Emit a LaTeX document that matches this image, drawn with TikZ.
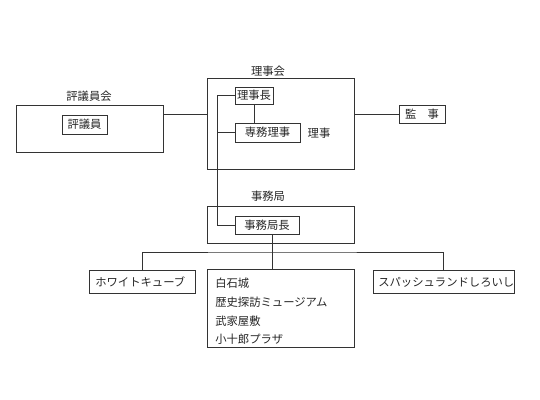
\documentclass[tikz,border=0pt]{standalone}
\usepackage{fontspec}
\setmainfont{Noto Sans CJK JP}
\begin{document}
\begin{tikzpicture}[x=0.75pt,y=-0.75pt,
  every node/.style={font=\fontsize{8.5}{10}\selectfont, text=black!85, inner sep=0pt},
  box/.style 2 args={draw=black!80, line width=0.6pt, rectangle, minimum width=#1*0.75pt, minimum height=#2*0.75pt},
  ln/.style={draw=black!80, line width=0.6pt}]
\useasboundingbox (0,0) rectangle (540,400);
% group boxes
\node[box={147}{47}] (hyogi) at (89.5,128.5) {};
\node[anchor=south] (hyogiL) at (89,102) {評議員会};
\node[box={45}{19}] (hyogiin) at (84.5,124.5) {評議員};

\node[box={147}{91}] (rijikai) at (280.5,123.5) {};
\node[anchor=south] (rijikaiL) at (268,77) {理事会};
\node[box={38}{17}] (rijicho) at (254,95.5) {理事長};
\node[box={65}{19}] (senmu) at (267.5,132.5) {専務理事};
\node (riji) at (319,133) {理事};

\node[box={46}{18}] (kanji) at (422,114) {監\hspace{1em}事};

\node[box={147}{37}] (jimukyoku) at (280.5,224.5) {};
\node[anchor=south] (jimukyokuL) at (268,202) {事務局};
\node[box={64}{18}] (kyokucho) at (267,225) {事務局長};

\node[box={106}{23}] (white) at (142,281.5) {};
\node[anchor=west] (whiteT) at (95,282) {ホワイトキューブ};
\node[box={147}{78}] (shiro) at (280.5,308) {};
\node[anchor=west] (t1) at (215,283) {白石城};
\node[anchor=west] (t2) at (215,302) {歴史探訪ミュージアム};
\node[anchor=west] (t3) at (215,321) {武家屋敷};
\node[anchor=west] (t4) at (215,339) {小十郎プラザ};
\node[box={141}{23}] (spash) at (443.5,281.5) {};
\node[anchor=west] (spashT) at (378,282) {スパッシュランドしろいし};

% coordinates
\coordinate (vl) at (217,95.5);
\coordinate (bus) at (272,252);

% connectors
\draw[ln] (hyogi.east |- 0,114) -- (rijikai.west |- 0,114);
\draw[ln] (rijikai.east |- 0,114) -- (kanji.west |- 0,114);
\draw[ln] (rijicho.south) -- (rijicho.south |- senmu.north);
\draw[ln] (rijicho.west) -- (vl) |- (kyokucho.west);
\draw[ln] (vl |- senmu.west) -- (senmu.west);
\draw[ln] (kyokucho.south -| bus) -- (bus |- shiro.north);
\draw[ln] (white.north) |- (bus) -| (spash.north);
\end{tikzpicture}
\end{document}
